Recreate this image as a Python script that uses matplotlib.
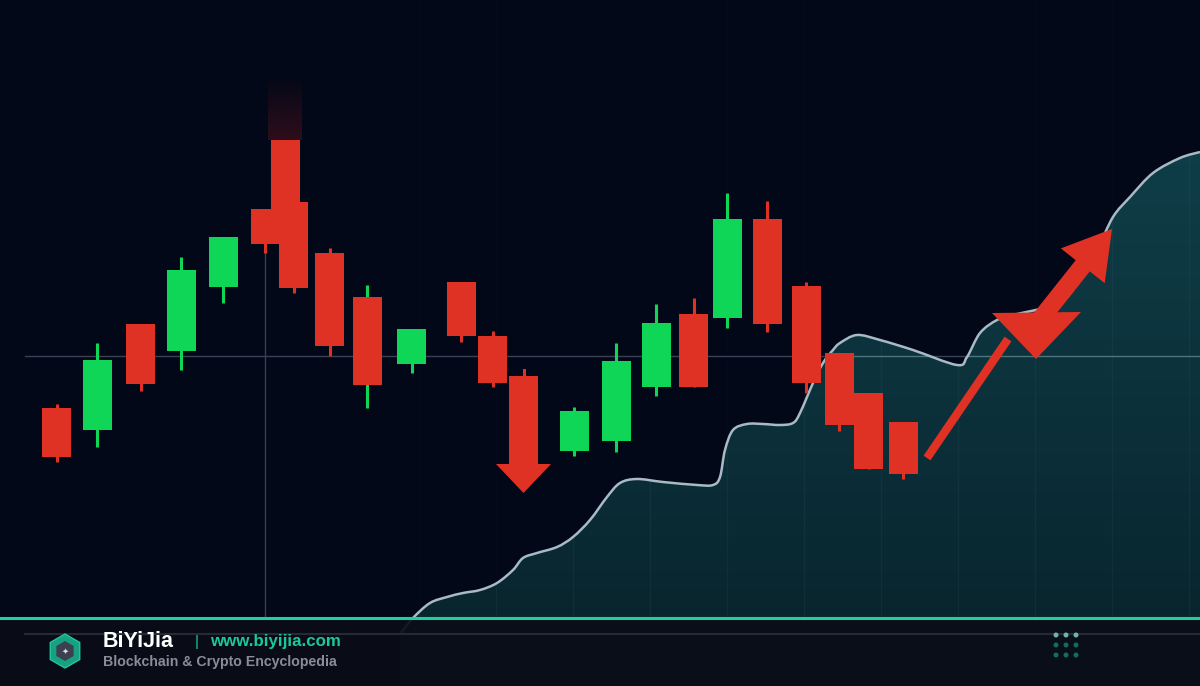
import matplotlib
matplotlib.use("Agg")
import matplotlib.pyplot as plt
import numpy as np
from matplotlib.patches import FancyArrow, Polygon, RegularPolygon, Rectangle, Circle, PathPatch
from matplotlib.path import Path
from matplotlib.colors import to_rgb

# canvas units: x = time slot (px), y = price level (0 at bottom)
BG = "#020817"
RED = "#e03224"
GREEN = "#10d658"
CANDLE_W = 29

# candles
cx     = [56.5, 97, 140.5, 181, 223, 265, 285, 293.5, 329.5, 367, 411.5, 461, 492.5,
          574, 616, 656, 693.5, 727, 767, 806, 839, 868.5, 903]
opens  = [278, 256, 362, 335, 399, 477, 546, 484, 433, 389, 322, 404, 350,
          235, 245, 299, 372, 368, 467, 400, 333, 293, 264]
closes = [229, 326, 302, 416, 449, 442, 476, 398, 340, 301, 357, 350, 303,
          275, 325, 363, 299, 467, 362, 303, 261, 217, 212]
highs  = [282, 343, 362, 429, 449, 477, 546, 484, 438, 401, 357, 404, 355,
          279, 343, 382, 388, 493, 485, 404, 333, 293, 264]
lows   = [224, 239, 295, 316, 383, 433, 476, 393, 330, 278, 313, 344, 299,
          230, 234, 290, 299, 358, 354, 293, 255, 217, 207]
green_wick = [False] * len(cx)
green_wick[9] = True

# area curve (trend line)
curve_x = [400, 413, 430, 447, 463, 480, 497, 513, 523, 537, 557, 573, 590, 607, 620,
           637, 663, 697, 713, 720, 725, 733, 747, 763, 780, 793, 800, 813, 823, 833,
           840, 857, 880, 913, 957, 967, 980, 997, 1013, 1047, 1067, 1080, 1097, 1113,
           1130, 1153, 1180, 1200]
curve_y = [52, 68, 83, 89, 93, 96, 103, 116, 128, 133, 139, 149, 166, 189, 203,
           207, 204, 201, 201, 209, 236, 256, 262, 262, 261, 263, 273, 303, 323, 336,
           343, 351, 346, 336, 321, 329, 353, 366, 371, 379, 389, 409, 436, 469,
           489, 513, 528, 534]

# down arrow (candle-shaped), pointer line, marker triangle and up arrow
down_arrow = dict(x=523.5, top=310, wick=316, tip=193)
pointer_line = ([927, 1008], [228, 347])
marker_tri = [(992, 373), (1081, 374), (1036, 327)]
up_arrow = dict(x=1027, y=350, tx=1112, ty=457)


def smooth_path(xs, ys, close_bottom=None):
    # Catmull-Rom rendered as cubic Bezier segments through the given points
    p = np.column_stack([xs, ys]).astype(float)
    verts = [p[0]]
    codes = [Path.MOVETO]
    for i in range(len(p) - 1):
        p0 = p[i - 1] if i > 0 else p[i]
        p1, p2 = p[i], p[i + 1]
        p3 = p[i + 2] if i + 2 < len(p) else p[i + 1]
        c1 = p1 + (p2 - p0) / 6.0
        c2 = p2 - (p3 - p1) / 6.0
        verts += [c1, c2, p2]
        codes += [Path.CURVE4] * 3
    if close_bottom is not None:
        verts += [(p[-1][0], close_bottom), (p[0][0], close_bottom), p[0]]
        codes += [Path.LINETO, Path.LINETO, Path.CLOSEPOLY]
    return Path(verts, codes)


fig = plt.figure(figsize=(12, 6.86), dpi=100, facecolor=BG)
ax = fig.add_axes([0, 0, 1, 1])
ax.set_xlim(0, 1200)
ax.set_ylim(0, 686)
ax.set_facecolor(BG)
ax.axis("off")

# area fill with gradient
clip = PathPatch(smooth_path(curve_x, curve_y, close_bottom=0), facecolor="none",
                 edgecolor="none")
ax.add_patch(clip)
top_c = np.array(to_rgb("#0f3e48"))
bot_c = np.array(to_rgb("#08222b"))
t = np.linspace(0, 1, 256)[:, None]
grad = (top_c * (1 - t) + bot_c * t)[:, None, :]
im = ax.imshow(grad, extent=[400, 1200, 0, 540], aspect="auto", zorder=2,
               interpolation="bilinear")
im.set_clip_path(clip)

# grid: faint verticals mainly visible in the filled area
for gx in np.arange(265 + 77, 1200, 77):
    ax.plot([gx, gx], [68, 686], color="#ffffff", alpha=0.01, lw=1, zorder=1)
    ln, = ax.plot([gx, gx], [0, 686], color="#4a7a85", alpha=0.1, lw=1, zorder=2.5)
    ln.set_clip_path(clip)
ax.plot([265, 265], [68, 433], color="#3a3f50", lw=1, zorder=1)
ax.plot([25, 1200], [330, 330], color="#3b4154", lw=1, zorder=1)
hl, = ax.plot([25, 1200], [330, 330], color="#4d7580", lw=1, zorder=2.5)
hl.set_clip_path(clip)

ax.add_patch(PathPatch(smooth_path(curve_x, curve_y), facecolor="none",
                       edgecolor="#a9bac6", lw=1.8, zorder=3))

# glow above tall candle
glow = np.zeros((64, 1, 4))
glow[..., :3] = to_rgb("#3a0f1c")
glow[:, 0, 3] = np.linspace(0.0, 0.8, 64)
ax.imshow(glow, extent=[268, 302, 546, 611], aspect="auto", zorder=3,
          interpolation="bilinear", origin="upper")

# candles
for i in range(len(cx)):
    up = closes[i] >= opens[i]
    col = GREEN if up else RED
    wcol = GREEN if (up or green_wick[i]) else RED
    ax.plot([cx[i], cx[i]], [lows[i], highs[i]], color=wcol, lw=2.2, zorder=4,
            solid_capstyle="butt")
    lo = min(opens[i], closes[i])
    ax.bar(cx[i], abs(closes[i] - opens[i]), bottom=lo, width=CANDLE_W,
           color=col, zorder=5, linewidth=0)

# down arrow
ax.plot([down_arrow["x"]] * 2, [down_arrow["top"], down_arrow["wick"]],
        color=RED, lw=2.2, zorder=4)
ax.add_patch(FancyArrow(down_arrow["x"], down_arrow["top"], 0,
                        down_arrow["tip"] - down_arrow["top"], width=29,
                        head_width=55, head_length=29, length_includes_head=True,
                        color=RED, lw=0, zorder=5))

# up move
ax.plot(*pointer_line, color=RED, lw=6, zorder=6, solid_capstyle="butt")
ax.add_patch(Polygon(marker_tri, closed=True, color=RED, lw=0, zorder=6))
ax.add_patch(FancyArrow(up_arrow["x"], up_arrow["y"], up_arrow["tx"] - up_arrow["x"],
                        up_arrow["ty"] - up_arrow["y"], width=18, head_width=56,
                        head_length=47, length_includes_head=True, color=RED,
                        lw=0, zorder=6))

# footer
ax.add_patch(Rectangle((0, 0), 1200, 68, facecolor="#0a0d17", alpha=0.93,
                       edgecolor="none", zorder=7))
ax.plot([0, 1200], [68, 68], color="#1fcf9f", lw=2.2, zorder=8)
ax.plot([25, 1200], [52, 52], color="#262a36", lw=1.5, zorder=8)

ax.add_patch(RegularPolygon((65, 35), numVertices=6, radius=17, orientation=0,
                            facecolor="#16a183", edgecolor="#22c79b", lw=1, zorder=9))
ax.add_patch(RegularPolygon((65, 35), numVertices=6, radius=10, orientation=0,
                            facecolor="#3d414f", edgecolor="none", zorder=10))
ax.text(65, 35, "✦", color="#d8dde6", fontsize=6, ha="center", va="center", zorder=11)

ax.text(103, 39, "BiYiJia", color="#ffffff", fontsize=15.5, fontweight="bold",
        family="Liberation Sans", va="baseline", zorder=9)
ax.text(195, 40, "|", color="#18c99a", fontsize=11, family="Liberation Sans",
        va="baseline", zorder=9)
ax.text(210, 40, "www.biyijia.com", color="#18c99a", fontsize=12.2, fontweight="bold",
        family="Liberation Sans", va="baseline", zorder=9)
ax.text(103, 20, "Blockchain & Crypto Encyclopedia", color="#8a8c99", fontsize=10.2,
        fontweight="bold", family="Liberation Sans", va="baseline", zorder=9)

for r, yy in enumerate([51, 41, 31]):
    for xx in [1056, 1066, 1076]:
        ax.add_patch(Circle((xx, yy), 2.5, color="#6fb3a8" if r == 0 else "#0f6e5f",
                            lw=0, zorder=9))

fig.savefig("out.png", dpi=100, facecolor=BG)
